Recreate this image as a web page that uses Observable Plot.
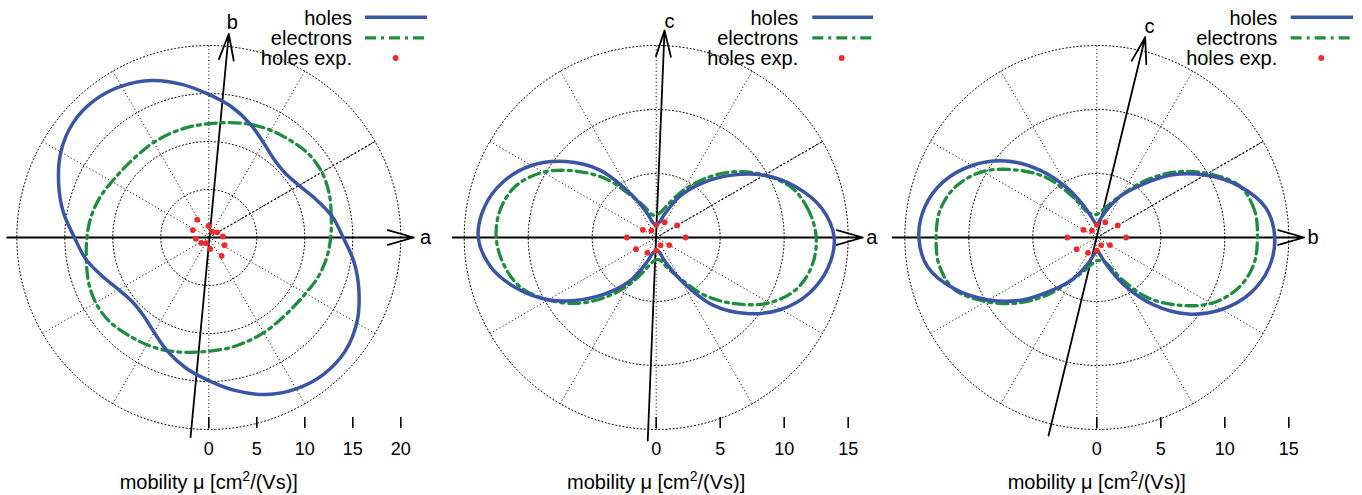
<!DOCTYPE html>
<html>
<head>
<meta charset="utf-8">
<script src="https://cdn.jsdelivr.net/npm/d3@7"></script>
<script src="https://cdn.jsdelivr.net/npm/@observablehq/plot@0.6"></script>
<style>
  html, body { margin: 0; padding: 0; background: #fff; }
  #wrap { position: relative; width: 1362px; height: 495px; overflow: hidden; background: #fff; }
  .panel { position: absolute; top: 0; }
  .panel svg { background: transparent !important; max-width: none !important; }
  .legend { position: absolute; top: 0; left: 0; pointer-events: none; }
</style>
</head>
<body>
<div id="wrap"></div>
<script>
// ---------------- data ----------------
// angles of the half turn; the other half repeats the values (r(θ+180°) = r(θ))
const halfAngles = [0, 10, 20, 30, 40, 50, 60, 70, 80, 90, 100, 110, 120, 130, 140, 150, 160, 170];

// panel 1: a-b plane
const holesAB     = [14.0, 13.0, 11.8, 10.85, 10.4, 10.6, 11.4, 12.6, 13.8, 14.9, 16.2, 17.4, 18.2, 18.6, 18.5, 17.8, 16.65, 15.4];
const electronsAB = [12.7, 12.95, 13.35, 13.6, 13.55, 13.2, 12.9, 12.55, 12.15, 11.85, 11.7, 11.55, 11.45, 11.35, 11.4, 11.65, 12.1, 12.45];
// panel 2: a-c plane
const holesAC     = [13.9, 13.13, 11.6, 9.73, 7.55, 5.53, 3.75, 1.98, 1.15, 1.05, 1.1, 1.96, 3.85, 6.9, 9.24, 11.25, 12.72, 13.63];
const electronsAC = [12.5, 12.1, 11.3, 9.75, 8.0, 6.05, 4.25, 2.8, 2.0, 1.75, 1.8, 2.5, 3.65, 5.9, 8.05, 10.2, 11.7, 12.38];
// panel 3: b-c plane
const holesBC     = [13.9, 13.4, 11.8, 9.75, 7.6, 5.35, 3.75, 2.3, 1.4, 1.0, 1.3, 2.3, 4.3, 6.85, 9.3, 11.25, 12.75, 13.65];
const electronsBC = [12.55, 12.5, 11.85, 10.0, 7.95, 5.75, 3.8, 2.7, 2.1, 1.8, 1.85, 2.1, 3.6, 6.1, 8.2, 10.3, 11.7, 12.43];

// experimental hole mobilities (angle in degrees, mobility)
const expAngleAB = [4, 32, 61, 92, 123, 155, 185, 216, 246, 277, 305, 334];
const expMuAB    = [1.48, 1.02, 0.7, 1.21, 2.22, 1.84, 1.35, 0.96, 0.65, 1.2, 2.33, 1.83];
const expAngleAC = [0, 30, 61, 90, 125, 150, 180, 210, 240, 270, 300, 330];
const expMuAC    = [2.29, 1.89, 1.37, 0.99, 0.66, 1.2, 2.3, 1.82, 1.39, 1.03, 0.68, 1.18];
const expAngleBC = expAngleAC;
const expMuBC    = expMuAC;

// grid radii and tick values
const ringsAB = [5, 10, 15, 20];
const ringsAC = [5, 10, 15];
const ticksAB = [0, 5, 10, 15, 20];
const ticksAC = [0, 5, 10, 15];
const spokeAngles = [0, 30, 60, 90, 120, 150, 180, 210, 240, 270, 300, 330];

// crystal axes: [x1, y1, x2, y2] in mobility units, and their labels [name, x, y]
const axesAB = [[-21.0, 0, 21.35, 0], [-1.9, -20.8, 2.08, 21.2]];
const axesAC = [[-15.9, 0, 16.14, 0], [-0.66, -15.86, 0.65, 16.17]];
const axesBC = [[-15.96, 0, 16.2, 0], [-3.77, -15.47, 3.78, 15.65]];
const axisNamesAB = [["a", 22.57, 0], ["b", 2.44, 22.4]];
const axisNamesAC = [["a", 16.85, 0], ["c", 1.04, 16.9]];
const axisNamesBC = [["b", 16.9, 0], ["c", 4.12, 16.45]];

const seriesNames = ["holes", "electrons", "holes exp."];
const axisTitle = "mobility μ [cm²/(Vs)]";

// ---------------- styles ----------------
const FONT = '"Liberation Sans", Arial, Helvetica, sans-serif';
const BLUE = "#3a55a5";
const GREEN = "#1e8e3e";
const RED = "#ee2a2a";
const DASHDOT = "11,5,3,5";
const DOTS = "1.1,2.5";

function polar(angle, r) {
  const t = angle * Math.PI / 180;
  return {x: r * Math.cos(t), y: r * Math.sin(t)};
}
function curvePoints(vals) {
  const pts = [];
  for (let k = 0; k < 2; k++) halfAngles.forEach((a, i) => pts.push(polar(a + 180 * k, vals[i])));
  return pts;
}
function ringPoints(rings) {
  const pts = [];
  rings.forEach(R => { for (let a = 0; a <= 360; a += 2) { const p = polar(a, R); p.ring = R; pts.push(p); } });
  return pts;
}

function makePanel(cfg) {
  const H = 495, cy = 237, frameBottom = 417;
  const u = cfg.unit, W = cfg.width, cx = cfg.cx;
  const R = cfg.rings[cfg.rings.length - 1];
  const spokes = spokeAngles.map(a => ({a, ...polar(a, R)}));
  const special = spokes.filter(s => s.a === 30);
  const exp = cfg.expAngle.map((a, i) => polar(a, cfg.expMu[i]));

  const svg = Plot.plot({
    width: W, height: H,
    marginLeft: 0, marginRight: 0, marginTop: 0, marginBottom: H - frameBottom,
    x: {domain: [-cx / u, (W - cx) / u]},
    y: {domain: [-(frameBottom - cy) / u, cy / u], axis: null},
    style: {fontFamily: FONT, fontSize: "18px", background: "transparent", color: "black"},
    marks: [
      // polar grid
      Plot.line(ringPoints(cfg.rings), {x: "x", y: "y", z: "ring", stroke: "#000", strokeWidth: 1, strokeDasharray: DOTS}),
      Plot.link(spokes, {x1: () => 0, y1: () => 0, x2: "x", y2: "y", stroke: "#000", strokeWidth: 1, strokeDasharray: DOTS}),
      Plot.link(special, {x1: () => 0, y1: () => 0, x2: "x", y2: "y", stroke: "#000", strokeWidth: 1.1, strokeDasharray: "2,2.2"}),
      // bottom tick axis
      Plot.axisX({ticks: cfg.ticks, tickSize: 11, tickPadding: 14, label: null, fontSize: 18, strokeWidth: 1.6, tickFormat: d => String(d)}),
      Plot.text([axisTitle], {x: () => 0, frameAnchor: "bottom", dy: 71, lineAnchor: "bottom", fontSize: 20, text: d => d}),
      // crystal axes
      Plot.arrow(cfg.axes, {x1: d => d[0], y1: d => d[1], x2: d => d[2], y2: d => d[3], stroke: "black", strokeWidth: 1.8, headLength: 22.5, headAngle: 32}),
      Plot.text(cfg.axisNames, {x: d => d[1], y: d => d[2], text: d => d[0], fontSize: 20, textAnchor: "middle", lineAnchor: "middle"}),
      // curves
      Plot.line(curvePoints(cfg.electrons), {x: "x", y: "y", curve: "catmull-rom-closed", stroke: GREEN, strokeWidth: 3.3, strokeDasharray: DASHDOT}),
      Plot.line(curvePoints(cfg.holes), {x: "x", y: "y", curve: "catmull-rom-closed", stroke: BLUE, strokeWidth: 3.5}),
      Plot.dot(exp, {x: "x", y: "y", r: 2.9, fill: RED, stroke: "none"})
    ]
  });

  // superscript for the axis title
  svg.querySelectorAll("text").forEach(t => {
    if (t.textContent === axisTitle) {
      const ns = "http://www.w3.org/2000/svg";
      t.textContent = "";
      const a = document.createElementNS(ns, "tspan"); a.textContent = "mobility μ [cm";
      const b = document.createElementNS(ns, "tspan"); b.textContent = "2"; b.setAttribute("dy", "-8"); b.setAttribute("font-size", "14");
      const c = document.createElementNS(ns, "tspan"); c.textContent = "/(Vs)]"; c.setAttribute("dy", "8");
      t.append(a, b, c);
    }
  });

  const div = document.createElement("div");
  div.className = "panel";
  div.style.left = cfg.left + "px";
  div.style.width = W + "px";
  div.appendChild(svg);

  // legend (top right of each panel)
  const L = cfg.legend;
  const leg = d3.create("svg").attr("class", "legend").attr("width", W).attr("height", 80)
    .style("font-family", FONT).style("font-size", "20px");
  const rows = [24.5, 45, 65.2];
  seriesNames.forEach((name, i) => {
    leg.append("text").attr("x", L.textRight).attr("y", rows[i]).attr("text-anchor", "end").attr("fill", "black").text(name);
  });
  const ly = rows.map(b => b - 7.2);
  leg.append("line").attr("x1", L.x1).attr("x2", L.x2).attr("y1", ly[0]).attr("y2", ly[0]).attr("stroke", BLUE).attr("stroke-width", 3.5);
  leg.append("line").attr("x1", L.x1).attr("x2", L.x2).attr("y1", ly[1]).attr("y2", ly[1]).attr("stroke", GREEN).attr("stroke-width", 3.3).attr("stroke-dasharray", DASHDOT);
  leg.append("circle").attr("cx", L.dot).attr("cy", ly[2]).attr("r", 2.9).attr("fill", RED);
  div.appendChild(leg.node());
  return div;
}

const wrap = document.getElementById("wrap");
wrap.appendChild(makePanel({left: 0, width: 445, cx: 208.3, unit: 9.6, rings: ringsAB, ticks: ticksAB,
  holes: holesAB, electrons: electronsAB, expAngle: expAngleAB, expMu: expMuAB, axes: axesAB, axisNames: axisNamesAB,
  legend: {textRight: 352, x1: 365, x2: 427, dot: 395.7}}));
wrap.appendChild(makePanel({left: 445, width: 445, cx: 210.7, unit: 12.8, rings: ringsAC, ticks: ticksAC,
  holes: holesAC, electrons: electronsAC, expAngle: expAngleAC, expMu: expMuAC, axes: axesAC, axisNames: axisNamesAC,
  legend: {textRight: 353.3, x1: 367.3, x2: 428, dot: 396.7}}));
wrap.appendChild(makePanel({left: 890, width: 472, cx: 206.3, unit: 12.8, rings: ringsAC, ticks: ticksAC,
  holes: holesBC, electrons: electronsBC, expAngle: expAngleBC, expMu: expMuBC, axes: axesBC, axisNames: axisNamesBC,
  legend: {textRight: 387.3, x1: 400.7, x2: 463, dot: 431.3}}));
</script>
</body>
</html>
